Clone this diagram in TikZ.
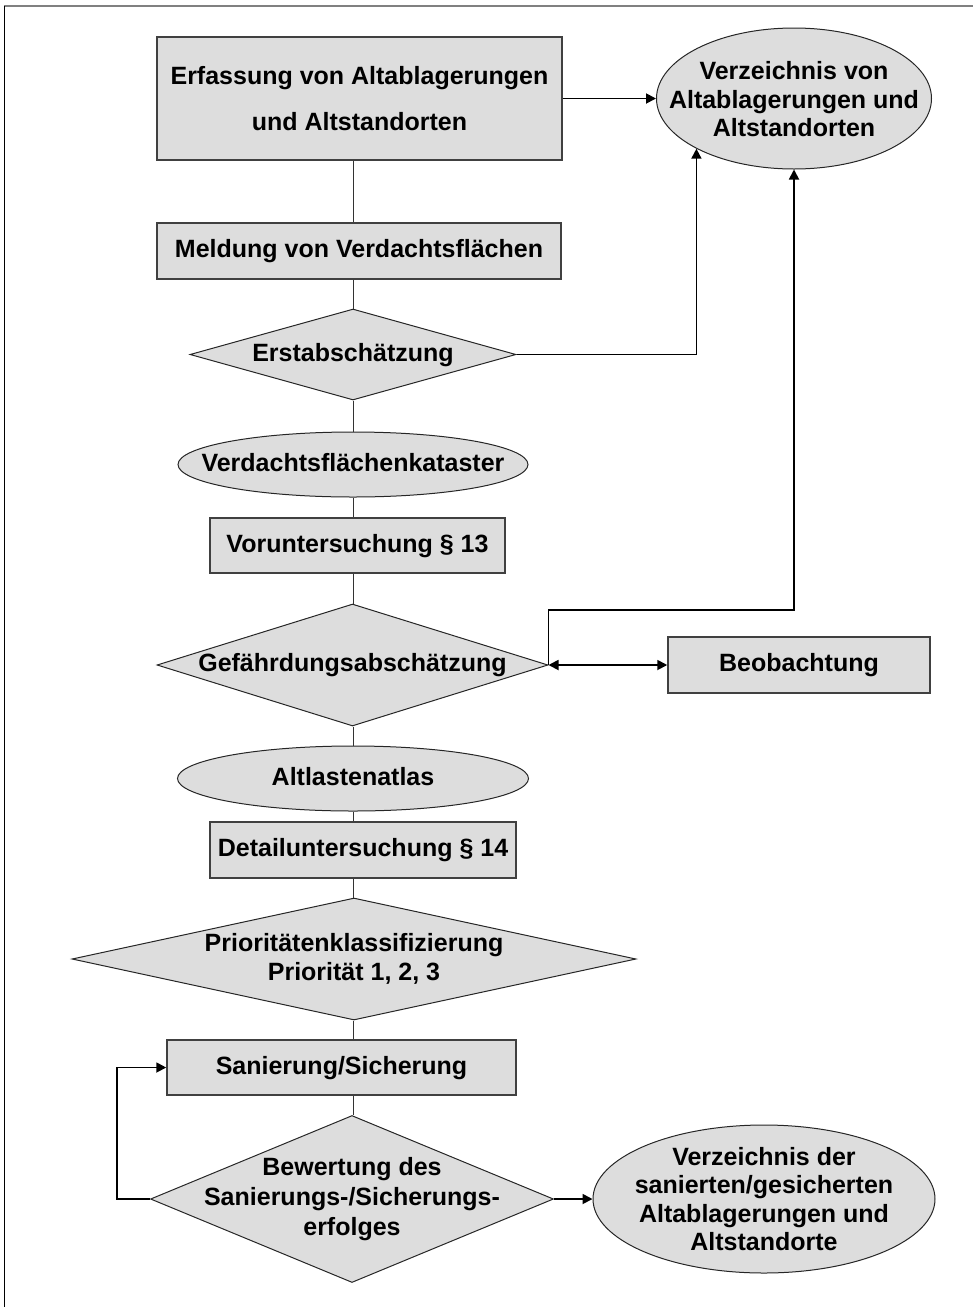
\documentclass[tikz,border=0pt]{standalone}
\usepackage{fontspec}
\setmainfont{Liberation Sans}
\usetikzlibrary{shapes.geometric,arrows.meta,calc}
\definecolor{boxfill}{RGB}{221,221,221}
\begin{document}
\begin{tikzpicture}[x=1pt,y=-1pt,
  every node/.style={font=\fontsize{25}{28.5}\selectfont\bfseries, align=center, text=black},
  box/.style={rectangle, fill=boxfill, draw=black!75, line width=1.5pt, inner sep=0pt},
  dia/.style={diamond, fill=boxfill, draw=black!85, line width=1pt, inner sep=0pt},
  ell/.style={ellipse, fill=boxfill, draw=black!85, line width=1pt, inner sep=0pt},
  lbl/.style={align=center, inner sep=0pt},
  oneline/.style={text height=18pt, text depth=5pt},
  conn/.style={line width=1pt, draw=black!80},
  arr/.style={line width=1.8pt, draw=black, -{Triangle[length=10pt,width=10pt]}},
  darr/.style={line width=1.8pt, draw=black, {Triangle[length=10pt,width=10pt]}-{Triangle[length=10pt,width=10pt]}},
]
\useasboundingbox (0,0) rectangle (973,1307);
% frame
\draw[line width=2pt, draw=gray] (4,6) -- (973,6);
\draw[line width=1.5pt, draw=black] (4.5,6) -- (4.5,1307);

% nodes
\node[box, minimum width=405pt, minimum height=123pt] (erf) at (359.5,98.5)
  {Erfassung von Altablagerungen\\[17pt]und Altstandorten};
\node[ell, minimum width=275pt, minimum height=141pt,
  label={[lbl, yshift=-1pt]center:{Verzeichnis von\\Altablagerungen und\\Altstandorten}}] (verz1) at (794,98.5) {};
\node[box, oneline, minimum width=404pt, minimum height=56pt] (meld) at (359,251) {Meldung von Verdachtsflächen};
\node[dia, minimum width=326pt, minimum height=91pt,
  label={[lbl, oneline]center:{Erstabschätzung}}] (erst) at (353,354.5) {};
\node[ell, minimum width=350pt, minimum height=65pt,
  label={[lbl, oneline]center:{Verdachtsflächenkataster}}] (kat) at (353,464.5) {};
\node[box, oneline, minimum width=295pt, minimum height=55pt] (vor) at (357.5,545.5) {Voruntersuchung § 13};
\node[dia, minimum width=391pt, minimum height=122pt,
  label={[lbl, oneline]center:{Gefährdungsabschätzung}}] (gef) at (352.5,665) {};
\node[box, oneline, minimum width=262pt, minimum height=56pt] (beob) at (799,665) {Beobachtung};
\node[ell, minimum width=351pt, minimum height=65pt,
  label={[lbl, oneline]center:{Altlastenatlas}}] (alt) at (353,778.5) {};
\node[box, oneline, minimum width=306pt, minimum height=56pt] (det) at (363,850) {Detailuntersuchung § 14};
\node[dia, minimum width=564pt, minimum height=122pt,
  label={[lbl]center:{Prioritätenklassifizierung\\Priorität 1, 2, 3}}] (prio) at (354,959) {};
\node[box, oneline, minimum width=349pt, minimum height=55pt] (san) at (341.5,1067.5) {Sanierung/Sicherung};
\node[dia, minimum width=403pt, minimum height=167pt,
  label={[lbl, font=\fontsize{25}{30}\selectfont\bfseries]center:{Bewertung des\\Sanierungs-/Sicherungs-\\erfolges}}] (bew) at (352,1199) {};
\node[ell, minimum width=342pt, minimum height=148pt,
  label={[lbl]center:{Verzeichnis der\\sanierten/gesicherten\\Altablagerungen und\\Altstandorte}}] (verz2) at (764,1199) {};

% main column connectors
\coordinate (ax) at (353,0);
\coordinate (bend) at (794,610);
\draw[conn] (erf.south -| ax) -- (meld.north -| ax);
\draw[conn] (meld.south -| ax) -- (erst.north -| ax);
\draw[conn] (erst.south -| ax) -- (kat.north -| ax);
\draw[conn] (kat.south -| ax) -- (vor.north -| ax);
\draw[conn] (vor.south -| ax) -- (gef.north -| ax);
\draw[conn] (gef.south -| ax) -- (alt.north -| ax);
\draw[conn] (alt.south -| ax) -- (det.north -| ax);
\draw[conn] (det.south -| ax) -- (prio.north -| ax);
\draw[conn] (prio.south -| ax) -- (san.north -| ax);
\draw[conn] (san.south -| ax) -- (bew.north -| ax);

% arrows
\draw[arr] (erf.east) -- (verz1.west);
\draw[arr] (erst.east) -| (verz1.south west);
\draw[arr] (gef.east) |- (bend) -- (verz1.south);
\draw[darr] (gef.east) -- (beob.west);
\draw[arr] (bew.west) -- ++(-33,0) |- (san.west);
\draw[arr] (bew.east) -- (verz2.west);
\end{tikzpicture}
\end{document}
